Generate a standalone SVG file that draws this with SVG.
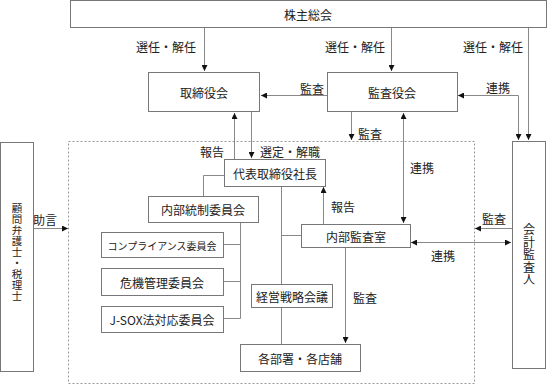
<svg xmlns="http://www.w3.org/2000/svg" width="548" height="385" viewBox="0 0 548 385">
<defs>
<marker id="ah" viewBox="0 0 10 10" refX="10" refY="5" markerWidth="6" markerHeight="6" orient="auto-start-reverse" markerUnits="userSpaceOnUse">
<path d="M0,0 L10,5 L0,10 z" fill="#111"/>
</marker>
<style>
.box{fill:#fff;stroke:#777;stroke-width:1}
.t{font-family:"Noto Sans CJK JP","Noto Sans",sans-serif;font-size:12px;fill:#222;text-anchor:middle;dominant-baseline:central}
.s{font-size:10px}
.v{font-family:"Noto Sans CJK JP","Noto Sans",sans-serif;fill:#222;text-anchor:middle;writing-mode:vertical-rl}
.ln{fill:none;stroke:#888;stroke-width:1}
.dash{fill:none;stroke:#999;stroke-width:1;stroke-dasharray:2,2}
</style>
</defs>
<rect width="548" height="385" fill="#fff"/>
<rect class="dash" x="68.5" y="141.5" width="406" height="242"/>
<g id="connectors">
<path class="ln" d="M204.5,28 V71" marker-end="url(#ah)"/>
<path class="ln" d="M391.5,28 V71" marker-end="url(#ah)"/>
<path class="ln" d="M528.5,28 V140" marker-end="url(#ah)"/>
<path class="ln" d="M327,95.5 H261" marker-end="url(#ah)"/>
<path class="ln" d="M518.5,140 V95.5 H458" marker-start="url(#ah)" marker-end="url(#ah)"/>
<path class="ln" d="M351.5,112 V140" marker-end="url(#ah)"/>
<path class="ln" d="M234.5,159 V113" marker-end="url(#ah)"/>
<path class="ln" d="M251.5,112 V158" marker-end="url(#ah)"/>
<path class="ln" d="M403.5,223 V113" marker-start="url(#ah)" marker-end="url(#ah)"/>
<path class="ln" d="M323.5,224 V187" marker-end="url(#ah)"/>
<path class="ln" d="M411,242.5 H511" marker-start="url(#ah)" marker-end="url(#ah)"/>
<path class="ln" d="M512,228.5 H475" marker-end="url(#ah)"/>
<path class="ln" d="M33,228.5 H68" marker-end="url(#ah)"/>
<path class="ln" d="M345.5,247 V343" marker-end="url(#ah)"/>
<path class="ln" d="M224,175.5 H203.5 V196"/>
<path class="ln" d="M281.5,186 V284 M281.5,307 V344 M281.5,235.5 H301"/>
<path class="ln" d="M240.5,222 V318.5 M223,244.5 H240.5 M223,281.5 H240.5 M223,318.5 H240.5"/>
<text class="t" x="166" y="46">選任・解任</text>
<text class="t" x="355" y="46">選任・解任</text>
<text class="t" x="493" y="46">選任・解任</text>
<text class="t" x="312" y="88">監査</text>
<text class="t" x="498" y="87">連携</text>
<text class="t" x="370" y="133">監査</text>
<text class="t" x="212" y="151">報告</text>
<text class="t" x="290" y="151">選定・解職</text>
<text class="t" x="422" y="167">連携</text>
<text class="t" x="343" y="206">報告</text>
<text class="t" x="494" y="218">監査</text>
<text class="t" x="443" y="255">連携</text>
<text class="t" x="45" y="219">助言</text>
<text class="t" x="365" y="297">監査</text>
</g>
<g id="shareholders"><rect class="box" x="70.5" y="0.5" width="476" height="27"/><text class="t" x="308" y="14">株主総会</text></g>
<g id="board"><rect class="box" x="148.5" y="72.5" width="111" height="39"/><text class="t" x="204" y="92">取締役会</text></g>
<g id="auditboard"><rect class="box" x="327.5" y="72.5" width="130" height="39"/><text class="t" x="392" y="92">監査役会</text></g>
<g id="president"><rect class="box" x="224.5" y="159.5" width="101" height="27"/><text class="t" x="275" y="173">代表取締役社長</text></g>
<g id="internalcontrol"><rect class="box" x="148.5" y="196.5" width="110" height="26"/><text class="t" x="203" y="209.5">内部統制委員会</text></g>
<g id="compliance"><rect class="box" x="101.5" y="232.5" width="122" height="25"/><text class="t s" x="162" y="245">コンプライアンス委員会</text></g>
<g id="risk"><rect class="box" x="101.5" y="268.5" width="122" height="27"/><text class="t" x="162" y="282">危機管理委員会</text></g>
<g id="jsox"><rect class="box" x="101.5" y="306.5" width="122" height="26"/><text class="t" x="162" y="319.5">J-SOX法対応委員会</text></g>
<g id="internalaudit"><rect class="box" x="301.5" y="224.5" width="109" height="23"/><text class="t" x="356" y="236">内部監査室</text></g>
<g id="strategy"><rect class="box" x="251.5" y="284.5" width="81" height="23"/><text class="t" x="292" y="296">経営戦略会議</text></g>
<g id="departments"><rect class="box" x="240.5" y="344.5" width="120" height="27"/><text class="t" x="300" y="358">各部署・各店舗</text></g>
<g id="advisors"><rect class="box" x="0.5" y="142.5" width="33" height="229"/><text class="v" x="17" y="252" style="font-size:10.5px;letter-spacing:0.5px">顧問弁護士・税理士</text></g>
<g id="accountant"><rect class="box" x="512.5" y="141.5" width="33" height="227"/><text class="v" x="529" y="255" style="font-size:12px;letter-spacing:0.5px">会計監査人</text></g>
</svg>
